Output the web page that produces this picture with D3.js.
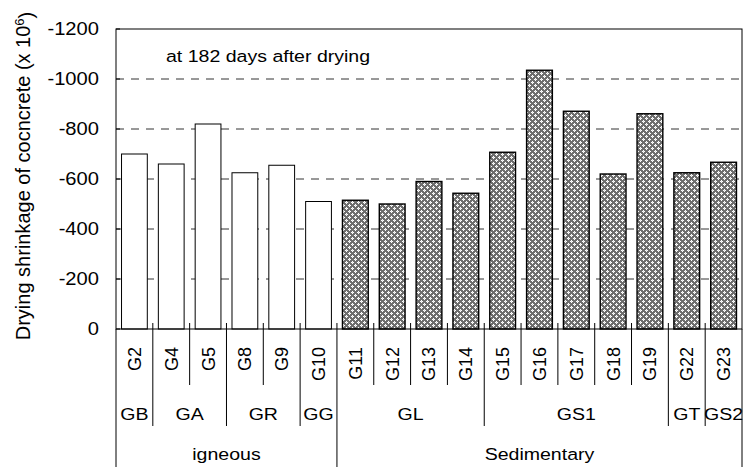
<!DOCTYPE html>
<html>
<head>
<meta charset="utf-8">
<script src="https://cdn.jsdelivr.net/npm/d3@7"></script>
<style>
  body { margin: 0; background: #fff; }
  svg { display: block; font-family: "Liberation Sans", Arial, sans-serif; }
</style>
</head>
<body>
<div id="chart"></div>
<script>
// sample names, shrinkage at 182 days (x 10^-6), and the two grouping levels
const samples = ["G2", "G4", "G5", "G8", "G9", "G10", "G11", "G12", "G13", "G14",
                 "G15", "G16", "G17", "G18", "G19", "G22", "G23"];
const shrinkage = [-700, -660, -820, -625, -655, -510, -515, -500, -590, -543,
                   -707, -1035, -871, -620, -861, -625, -667];
const rockGroup = ["GB", "GA", "GA", "GR", "GR", "GG", "GL", "GL", "GL", "GL",
                   "GS1", "GS1", "GS1", "GS1", "GS1", "GT", "GS2"];
const rockType = ["igneous", "igneous", "igneous", "igneous", "igneous", "igneous",
                  "Sedimentary", "Sedimentary", "Sedimentary", "Sedimentary", "Sedimentary",
                  "Sedimentary", "Sedimentary", "Sedimentary", "Sedimentary", "Sedimentary", "Sedimentary"];
const yTicks = [0, -200, -400, -600, -800, -1000, -1200];

const W = 743, H = 467;
const plot = { left: 116, right: 742, top: 29, bottom: 329 };
const sx = 1.15; // the original text is a bit wider than plain Arial

const svg = d3.select("#chart").append("svg")
    .attr("width", W)
    .attr("height", H);

const x = d3.scaleBand()
    .domain(samples)
    .range([plot.left, plot.right])
    .paddingInner(0.3)
    .paddingOuter(0.15);

const y = d3.scaleLinear()
    .domain([0, -1200])
    .range([plot.bottom, plot.top]);

const step = x.step();
const edge = i => plot.left + i * step;

// hatch pattern for the sedimentary bars
const pat = svg.append("defs").append("pattern")
    .attr("id", "hatch")
    .attr("patternUnits", "userSpaceOnUse")
    .attr("width", 6)
    .attr("height", 6);
pat.append("rect").attr("width", 6).attr("height", 6).attr("fill", "#6e6e6e");
[[0, 0], [3, 3]].forEach(([px, py]) => {
    pat.append("rect").attr("x", px).attr("y", py + 1).attr("width", 3).attr("height", 1).attr("fill", "#fff");
    pat.append("rect").attr("x", px + 1).attr("y", py).attr("width", 1).attr("height", 3).attr("fill", "#fff");
    pat.append("rect").attr("x", px + 1).attr("y", py + 1).attr("width", 1).attr("height", 1).attr("fill", "#e0e0e0");
});

// dashed grid
svg.append("g")
    .selectAll("line")
    .data(yTicks.filter(d => d !== 0 && d !== -1200))
    .join("line")
    .attr("x1", plot.left)
    .attr("x2", plot.right)
    .attr("y1", d => y(d))
    .attr("y2", d => y(d))
    .attr("stroke", "#333")
    .attr("stroke-dasharray", "8,7");

// bars
svg.append("g")
    .selectAll("rect")
    .data(samples)
    .join("rect")
    .attr("x", d => x(d))
    .attr("width", x.bandwidth())
    .attr("y", (d, i) => y(shrinkage[i]))
    .attr("height", (d, i) => y(0) - y(shrinkage[i]))
    .attr("fill", (d, i) => rockType[i] === "igneous" ? "#fff" : "url(#hatch)")
    .attr("stroke", "#000")
    .attr("stroke-width", (d, i) => rockType[i] === "igneous" ? 1 : 1.4);

// frame
svg.append("rect")
    .attr("x", plot.left)
    .attr("y", plot.top)
    .attr("width", plot.right - plot.left)
    .attr("height", plot.bottom - plot.top)
    .attr("fill", "none")
    .attr("stroke", "#000");

// y axis: inward ticks, labels on the left
const yAxis = svg.append("g");
yAxis.selectAll("line")
    .data(yTicks)
    .join("line")
    .attr("x1", plot.left)
    .attr("x2", plot.left + 4)
    .attr("y1", d => y(d))
    .attr("y2", d => y(d))
    .attr("stroke", "#000");
yAxis.selectAll("text")
    .data(yTicks)
    .join("text")
    .attr("transform", d => `translate(99,${y(d)}) scale(1.12,1)`)
    .attr("dy", "0.36em")
    .attr("text-anchor", "end")
    .style("font-size", "18px")
    .text(d => d);

// y title
const yt = svg.append("text")
    .attr("transform", "translate(30,176) rotate(-90)")
    .attr("text-anchor", "middle")
    .style("font-size", "20px");
yt.append("tspan").text("Drying shrinkage of cocncrete (x 10");
yt.append("tspan").attr("dy", "-0.45em").style("font-size", "13px").text("6");
yt.append("tspan").attr("dy", "0.45em").text(")");

// note
svg.append("text")
    .attr("transform", `translate(166,62) scale(${sx},1)`)
    .style("font-size", "17px")
    .text("at 182 days after drying");

// multi-level category axis
const sep = svg.append("g").attr("stroke", "#000");
sep.append("line").attr("x1", plot.left).attr("x2", plot.left).attr("y1", plot.bottom).attr("y2", H);
sep.append("line").attr("x1", plot.right).attr("x2", plot.right).attr("y1", plot.bottom).attr("y2", H);
d3.range(1, samples.length).forEach(i => {
    let bottom = 385;
    if (rockGroup[i] !== rockGroup[i - 1]) bottom = 426;
    if (rockType[i] !== rockType[i - 1]) bottom = H;
    sep.append("line")
        .attr("x1", edge(i)).attr("x2", edge(i))
        .attr("y1", plot.bottom - 6).attr("y2", bottom);
});

svg.append("g")
    .selectAll("text")
    .data(samples)
    .join("text")
    .attr("transform", d => `translate(${x(d) + x.bandwidth() / 2},347) rotate(-90)`)
    .attr("dy", "0.36em")
    .attr("text-anchor", "end")
    .style("font-size", "18px")
    .text(d => d);

function spans(keys) {
    const out = [];
    keys.forEach((k, i) => {
        const last = out[out.length - 1];
        if (last && last.key === k) last.end = i + 1;
        else out.push({ key: k, start: i, end: i + 1 });
    });
    return out;
}

svg.append("g")
    .selectAll("text")
    .data(spans(rockGroup))
    .join("text")
    .attr("transform", d => `translate(${(edge(d.start) + edge(d.end)) / 2},420) scale(${sx},1)`)
    .attr("text-anchor", "middle")
    .style("font-size", "17px")
    .text(d => d.key);

svg.append("g")
    .selectAll("text")
    .data(spans(rockType))
    .join("text")
    .attr("transform", d => `translate(${(edge(d.start) + edge(d.end)) / 2},460) scale(${sx},1)`)
    .attr("text-anchor", "middle")
    .style("font-size", "17px")
    .text(d => d.key);
</script>
</body>
</html>
